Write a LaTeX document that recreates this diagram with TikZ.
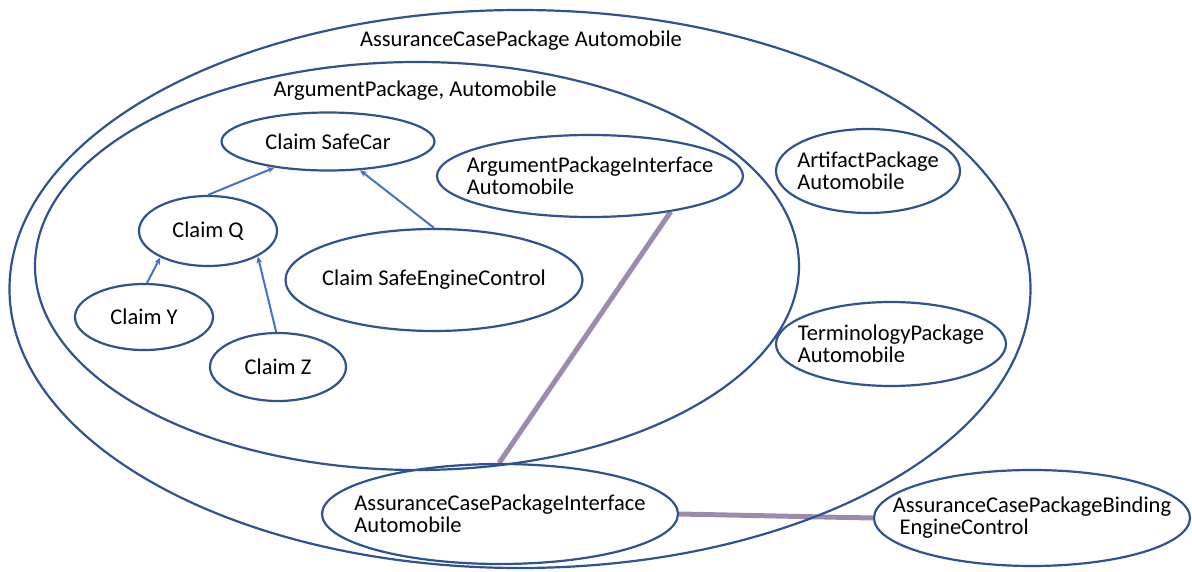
\documentclass[tikz,border=0pt]{standalone}
\usepackage{fontspec}
\setmainfont{Carlito}
\usetikzlibrary{shapes.geometric,arrows.meta,backgrounds}
\definecolor{edgeblue}{HTML}{2F5291}
\definecolor{arrowblue}{HTML}{4472C4}
\definecolor{linkpurple}{HTML}{9C8AAF}
\begin{document}
\begin{tikzpicture}[x=1pt,y=-1pt,
  pkg/.style={ellipse, draw=edgeblue, line width=2.2pt, inner sep=0pt},
  txt/.style={font=\fontsize{22.5}{22}\selectfont, align=left, text=black, inner sep=0pt},
  claimarrow/.style={draw=arrowblue, line width=2pt, -{Stealth[length=7pt,width=6pt]}},
  link/.style={draw=linkpurple, line width=5pt}]
\useasboundingbox (0,0) rectangle (1192,572);
% containers
\node[pkg, minimum width=1021pt, minimum height=558pt] (acp) at (520,289) {};
\node[txt] (acplbl) at (521,41) {AssuranceCasePackage Automobile};
\node[pkg, minimum width=764pt, minimum height=408pt] (arg) at (417,266) {};
\node[txt] (arglbl) at (415,91) {ArgumentPackage, Automobile};
% claims
\node[pkg, minimum width=213pt, minimum height=58pt] (safecar) at (328,141.5) {};
\node[txt] at (safecar) {Claim SafeCar};
\node[pkg, minimum width=138pt, minimum height=70pt] (q) at (208,231) {};
\node[txt] at (q) {Claim Q};
\node[pkg, minimum width=297pt, minimum height=102pt] (sec) at (434,280) {};
\node[txt] at (sec) {Claim SafeEngineControl};
\node[pkg, minimum width=138pt, minimum height=66pt] (y) at (144,317) {};
\node[txt] at (y) {Claim Y};
\node[pkg, minimum width=136pt, minimum height=68pt] (z) at (278,367) {};
\node[txt] at (z) {Claim Z};
% packages
\node[pkg, minimum width=306pt, minimum height=82pt] (api) at (590,176) {};
\node[txt] at (api) {ArgumentPackageInterface\\Automobile};
\node[pkg, minimum width=184pt, minimum height=84pt] (art) at (868,171) {};
\node[txt] at (art) {ArtifactPackage\\Automobile};
\node[pkg, minimum width=230pt, minimum height=84pt] (term) at (891,344) {};
\node[txt] at (term) {TerminologyPackage\\Automobile};
\node[pkg, minimum width=356pt, minimum height=100pt] (acpi) at (500,514) {};
\node[txt] at (acpi) {AssuranceCasePackageInterface\\Automobile};
\node[pkg, minimum width=316pt, minimum height=96pt] (bind) at (1032,518) {};
\node[txt] at (bind) {AssuranceCasePackageBinding\\\hspace*{0.3em}EngineControl};
% claim arrows
\draw[claimarrow] (q.north) -- (safecar.206);
\draw[claimarrow] (sec.north) -- (safecar.318);
\draw[claimarrow] (y.85) -- (q.209);
\draw[claimarrow] (z.93) -- (q.333);
% links
\begin{scope}[on background layer]
\draw[link] (api.336) -- (acpi.91);
\draw[link] (acpi.east) -- (bind.west);
\end{scope}
\end{tikzpicture}
\end{document}
